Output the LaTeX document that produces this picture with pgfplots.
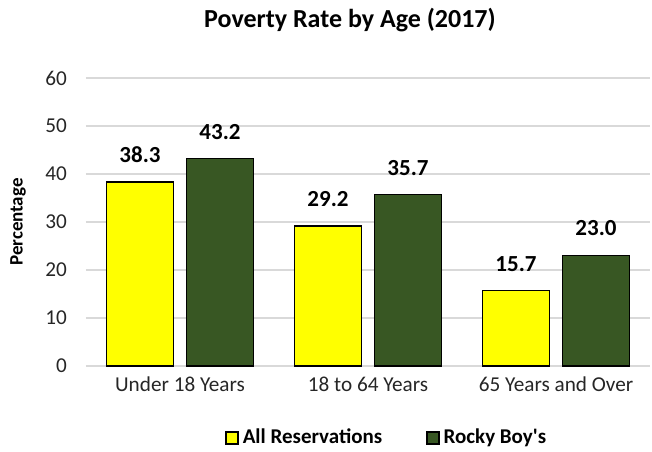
\documentclass[border=0pt]{standalone}
\usepackage{pgfplots}
\pgfplotsset{compat=1.18}
\usepackage{fontspec}
\setmainfont{Carlito}
\definecolor{ayellow}{RGB}{255,255,0}
\definecolor{agreen}{RGB}{56,87,35}
\definecolor{gridgray}{RGB}{217,217,217}
\begin{document}
\begin{tikzpicture}
\begin{axis}[
  at={(0,0)}, anchor=south west,
  scale only axis, width=282pt, height=144pt,
  xmin=-0.5, xmax=2.5, ymin=0, ymax=60,
  ytick={0,10,...,60},
  xtick={0,1,2},
  xticklabels={Under 18 Years,18 to 64 Years,65 Years and Over},
  major tick length=0pt,
  axis line style={draw=none},
  ymajorgrids, grid style={gridgray, line width=0.6pt},
  /pgf/number format/assume math mode=true,
  tick label style={font=\fontsize{10.6}{12}\selectfont, text=black!85},
  yticklabel style={xshift=-6pt},
  xticklabel style={yshift=-2pt},
  ybar=6.5pt, bar width=33.5pt,
  nodes near coords,
  nodes near coords style={font=\bfseries\fontsize{11.5}{13}\selectfont, yshift=6pt},
  point meta=explicit symbolic,
  legend style={at={(0.535,-0.25)}, anchor=center, draw=none, legend columns=2,
    font=\bfseries\fontsize{10.5}{12}\selectfont, /tikz/every even column/.append style={column sep=20pt}},
  legend image code/.code={\draw[#1, draw=black, line width=0.7pt] (0pt,-3pt) rectangle (6pt,3pt);},
  clip=false,
]
\addplot[fill=ayellow, draw=black, line width=0.8pt] coordinates {(0,38.3) [38.3] (1,29.2) [29.2] (2,15.7) [15.7]};
\addplot[fill=agreen, draw=black, line width=0.8pt] coordinates {(0,43.2) [43.2] (1,35.7) [35.7] (2,23.0) [23.0]};
\legend{All Reservations, Rocky Boy\textquotesingle s}
\node[font=\bfseries\fontsize{13}{15}\selectfont] at ([yshift=29pt]rel axis cs:0.468,1) {Poverty Rate by Age (2017)};
\node[font=\bfseries\fontsize{9.5}{11}\selectfont, rotate=90] at ([xshift=-34pt]rel axis cs:0,0.5) {Percentage};
\end{axis}
\pgfresetboundingbox
\path (-43pt,-42.5pt) rectangle (283pt,183pt);
\end{tikzpicture}
\end{document}
